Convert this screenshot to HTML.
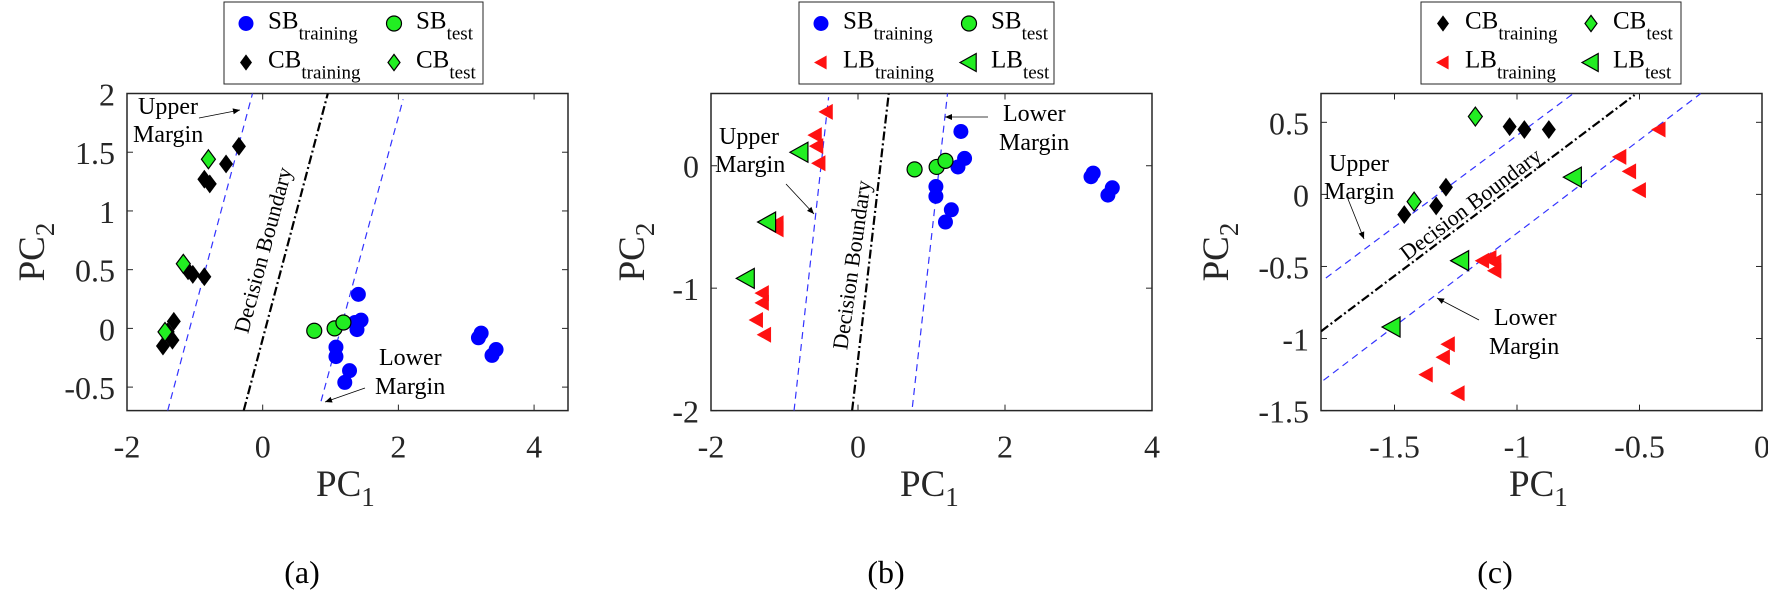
<!DOCTYPE html>
<html><head><meta charset="utf-8"><style>
html,body{margin:0;padding:0;background:#fff;}
svg{display:block;font-family:"Liberation Serif",serif;}
</style></head><body>
<svg id="fig" width="1768" height="606" viewBox="0 0 1768 606" xmlns="http://www.w3.org/2000/svg"></svg>
<script>
// ---------- data ----------
const sbTrainX=[1.41,1.45,1.39,1.36,1.08,1.08,1.28,1.21,3.22,3.18,3.44,3.38];
const sbTrainY=[0.29,0.07,-0.01,0.05,-0.16,-0.24,-0.36,-0.46,-0.04,-0.08,-0.18,-0.23];
const sbTestX=[0.76,1.06,1.19];
const sbTestY=[-0.02,0.0,0.05];
const cbTrainX=[-0.35,-0.54,-0.86,-0.78,-1.03,-0.86,-1.10,-1.31,-1.33,-1.47,-1.40];
const cbTrainY=[1.55,1.40,1.27,1.23,0.46,0.44,0.49,0.06,-0.10,-0.15,-0.03];
const cbTestX=[-0.80,-1.17,-1.44];
const cbTestY=[1.44,0.55,-0.03];
const lbTrainXb=[-0.43,-0.58,-0.56,-0.53,-1.10,-1.10,-1.30,-1.30,-1.38,-1.27];
const lbTrainYb=[0.44,0.25,0.16,0.02,-0.47,-0.52,-1.04,-1.12,-1.26,-1.38];
const lbTestXb=[-0.79,-1.23,-1.52];
const lbTestYb=[0.11,-0.46,-0.92];
const sbTrainXb=[1.40,1.45,1.36,1.06,1.06,1.27,1.19,3.20,3.17,3.46,3.40];
const sbTrainYb=[0.28,0.06,-0.01,-0.17,-0.25,-0.36,-0.46,-0.06,-0.09,-0.18,-0.24];
const sbTestXb=[0.77,1.07,1.19];
const sbTestYb=[-0.03,-0.01,0.04];
const cbTrainXc=[-1.46,-1.33,-1.29,-1.03,-0.97,-0.87];
const cbTrainYc=[-0.14,-0.08,0.05,0.47,0.45,0.45];
const cbTestXc=[-1.42,-1.17];
const cbTestYc=[-0.05,0.54];
const lbTrainXc=[-0.42,-0.58,-0.54,-0.50,-1.14,-1.11,-1.09,-1.09,-1.28,-1.30,-1.37,-1.24];
const lbTrainYc=[0.45,0.26,0.16,0.03,-0.46,-0.44,-0.47,-0.53,-1.04,-1.13,-1.25,-1.38];
const lbTestXc=[-0.77,-1.23,-1.51];
const lbTestYc=[0.12,-0.46,-0.92];
// lines: [x1,y1,x2,y2] in data units
const linesA={upper:[-1.40,-0.7,-0.15,2],boundary:[-0.28,-0.7,0.96,2],lower:[0.86,-0.62,2.07,1.95]};
const linesB={upper:[-0.87,-2,-0.40,0.56],boundary:[-0.08,-2,0.42,0.6],lower:[0.74,-1.97,1.22,0.6]};
const linesC={upper:[-1.78,-0.58,-0.77,0.70],boundary:[-1.8,-0.95,-0.52,0.69],lower:[-1.79,-1.29,-0.25,0.70]};
const ticksXA=[-2,0,2,4], ticksYA=[2,1.5,1,0.5,0,-0.5];
const tickLabXA=["-2","0","2","4"], tickLabYA=["2","1.5","1","0.5","0","-0.5"];
const ticksXB=[-2,0,2,4], ticksYB=[0,-1,-2];
const tickLabXB=["-2","0","2","4"], tickLabYB=["0","-1","-2"];
const ticksXC=[-1.5,-1,-0.5,0], ticksYC=[0.5,0,-0.5,-1,-1.5];
const tickLabXC=["-1.5","-1","-0.5","0"], tickLabYC=["0.5","0","-0.5","-1","-1.5"];

const NS="http://www.w3.org/2000/svg";
const svg=document.getElementById('fig');
function mk(tag,attrs,parent,txt){const e=document.createElementNS(NS,tag);for(const k in attrs)e.setAttribute(k,attrs[k]);if(txt!==undefined)e.textContent=txt;(parent||svg).appendChild(e);return e;}

function marker(g,type,cx,cy,s){
  let e;
  if(type==='sbTrain'){e=mk('circle',{cx:cx,cy:cy,r:7,fill:'#0000ff',stroke:'#0000ff','stroke-width':1},g);}
  else if(type==='sbTest'){e=mk('circle',{cx:cx,cy:cy,r:7.5,fill:'#22ee22',stroke:'#000','stroke-width':1.2},g);}
  else if(type==='cbTrain'){const w=s||7,h=(s||7)*1.35;e=mk('polygon',{points:`${cx},${cy-h} ${cx+w},${cy} ${cx},${cy+h} ${cx-w},${cy}`,fill:'#000'},g);}
  else if(type==='cbTest'){const w=s||7,h=(s||7)*1.35;e=mk('polygon',{points:`${cx},${cy-h} ${cx+w},${cy} ${cx},${cy+h} ${cx-w},${cy}`,fill:'#22ee22',stroke:'#000','stroke-width':1.2},g);}
  else if(type==='lbTrain'){const a=s||8;e=mk('polygon',{points:`${cx-a},${cy} ${cx+a*0.8},${cy-a} ${cx+a*0.8},${cy+a}`,fill:'#ff1111'},g);}
  else if(type==='lbTest'){const a=s||10;e=mk('polygon',{points:`${cx-a},${cy} ${cx+a*0.8},${cy-a} ${cx+a*0.8},${cy+a}`,fill:'#22ee22',stroke:'#000','stroke-width':1.2},g);}
  return e;
}

function panel(cfg){
  const g=mk('g',{});
  
  
  const L=cfg.box[0],T=cfg.box[1],R=cfg.box[2],B=cfg.box[3];
  const sx=v=>L+(v-cfg.xl[0])/(cfg.xl[1]-cfg.xl[0])*(R-L);
  const sy=v=>B-(v-cfg.yl[0])/(cfg.yl[1]-cfg.yl[0])*(B-T);
  const clipId='clip'+cfg.name;
  const cp=mk('clipPath',{id:clipId},g);mk('rect',{x:L,y:T,width:R-L,height:B-T},cp);
  // axes box
  const box=mk('rect',{x:L,y:T,width:R-L,height:B-T,fill:'none',stroke:'#262626','stroke-width':1.5},g);
  
  
  cfg.tx.forEach((v,i)=>{const x=sx(v);
    mk('line',{x1:x,y1:B,x2:x,y2:B-6,stroke:'#262626'},g);mk('line',{x1:x,y1:T,x2:x,y2:T+6,stroke:'#262626'},g);
    const t=mk('text',{x:x,y:B+47,'font-size':32,'text-anchor':'middle',fill:'#262626'},g,cfg.txl[i]);
    
    });
  cfg.ty.forEach((v,i)=>{const y=sy(v);
    mk('line',{x1:L,y1:y,x2:L+6,y2:y,stroke:'#262626'},g);mk('line',{x1:R,y1:y,x2:R-6,y2:y,stroke:'#262626'},g);
    const t=mk('text',{x:L-12,y:y+12,'font-size':32,'text-anchor':'end',fill:'#262626'},g,cfg.tyl[i]);
    
    });
  // lines
  const lg=mk('g',{'clip-path':`url(#${clipId})`},g);
  const ln=cfg.lines;
  [['upper',ln.upper],['lower',ln.lower]].forEach(([n,p])=>{
    const e=mk('line',{x1:sx(p[0]),y1:sy(p[1]),x2:sx(p[2]),y2:sy(p[3]),stroke:'#3333ff','stroke-width':1.2,'stroke-dasharray':'7,5'},lg);
    
    });
  const bd=mk('line',{x1:sx(ln.boundary[0]),y1:sy(ln.boundary[1]),x2:sx(ln.boundary[2]),y2:sy(ln.boundary[3]),stroke:'#000','stroke-width':2.2,'stroke-dasharray':'9,3,2,3'},lg);
  
  
  // points
  cfg.series.forEach(s=>{const sg=mk('g',{},lg);
    
    
    s.x.forEach((v,i)=>{const m=marker(sg,s.type,sx(v),sy(s.y[i]),s.size);
      
      });});
  // annotations
  cfg.ann.forEach(a=>{const t=mk('text',{x:a.x,y:a.y,'font-size':a.fs||24,fill:'#000',transform:a.rot?`rotate(${a.rot} ${a.x} ${a.y})`:'', 'text-anchor':a.anchor||'start'},g,a.t);
    
    });
  cfg.arrows.forEach(a=>{
    const e=mk('line',{x1:a[0],y1:a[1],x2:a[2],y2:a[3],stroke:'#000','stroke-width':0.8},g);
    
    
    const ang=Math.atan2(a[3]-a[1],a[2]-a[0]),l=7,w=3;
    const bx=a[2]-l*Math.cos(ang),by=a[3]-l*Math.sin(ang);
    mk('polygon',{points:`${a[2]},${a[3]} ${bx-w*Math.sin(ang)},${by+w*Math.cos(ang)} ${bx+w*Math.sin(ang)},${by-w*Math.cos(ang)}`,fill:'#000'},g);});
  // axis titles
  const px=mk('text',{x:cfg.pc1[0],y:cfg.pc1[1],'font-size':37,fill:'#262626'},g);
  
  
  mk('tspan',{},px,'PC');mk('tspan',{'font-size':27,dy:10},px,'1');
  const py=mk('text',{x:cfg.pc2[0],y:cfg.pc2[1],'font-size':37,fill:'#262626','text-anchor':'middle',transform:`rotate(-90 ${cfg.pc2[0]} ${cfg.pc2[1]})`},g);
  
  
  mk('tspan',{},py,'PC');mk('tspan',{'font-size':27,dy:10},py,'2');
  const pl=mk('text',{x:cfg.lab[0],y:583,'font-size':32,fill:'#000','text-anchor':'middle'},g,cfg.lab[1]);
  
  
  // legend
  const lgd=mk('g',{},g);
  
  
  const X0=cfg.leg[0],X1=cfg.leg[1];
  mk('rect',{x:X0,y:2,width:X1-X0,height:82,fill:'#fff',stroke:'#262626','stroke-width':1},lgd);
  cfg.legItems.forEach((it,i)=>{const col=i%2,row=Math.floor(i/2);
    const mx=X0+22+col*148,my=23.5+row*39;
    const e=mk('g',{},lgd);
    
    
    marker(e,it.type,mx,my,it.type.startsWith('cb')?6:(it.type==='lbTest'?9:7));
    const t=mk('text',{x:mx+22,y:my+5,'font-size':25,fill:'#000'},e);
    mk('tspan',{},t,it.a);mk('tspan',{'font-size':19,dy:11},t,it.b);});
}

panel({name:'panel-a',box:[127,93.5,568,410.6],xl:[-2,4.5],yl:[-0.7,2],tx:ticksXA,txl:tickLabXA,ty:ticksYA,tyl:tickLabYA,lines:linesA,
 series:[{name:'sb-training',type:'sbTrain',x:sbTrainX,y:sbTrainY},{name:'sb-test',type:'sbTest',x:sbTestX,y:sbTestY},
  {name:'cb-training',type:'cbTrain',x:cbTrainX,y:cbTrainY},{name:'cb-test',type:'cbTest',x:cbTestX,y:cbTestY,size:7}],
 ann:[{x:138,y:114,t:'Upper'},{x:133,y:142,t:'Margin'},{x:379,y:365,t:'Lower'},{x:375,y:394,t:'Margin'},{x:270,y:252,t:'Decision Boundary',rot:-75,fs:22,anchor:'middle'}],
 arrows:[[199,118,240,110],[365,388,325,402]],pc1:[316,496],pc2:[44,252],lab:[302,'(a)'],leg:[224,483],
 legItems:[{type:'sbTrain',a:'SB',b:'training'},{type:'sbTest',a:'SB',b:'test'},{type:'cbTrain',a:'CB',b:'training'},{type:'cbTest',a:'CB',b:'test'}]});

panel({name:'panel-b',box:[711,93.5,1152,410.6],xl:[-2,4],yl:[-2,0.59],tx:ticksXB,txl:tickLabXB,ty:ticksYB,tyl:tickLabYB,lines:linesB,
 series:[{name:'sb-training',type:'sbTrain',x:sbTrainXb,y:sbTrainYb},{name:'sb-test',type:'sbTest',x:sbTestXb,y:sbTestYb},
  {name:'lb-training',type:'lbTrain',x:lbTrainXb,y:lbTrainYb},{name:'lb-test',type:'lbTest',x:lbTestXb,y:lbTestYb}],
 ann:[{x:719,y:144,t:'Upper'},{x:715,y:172,t:'Margin'},{x:1003,y:121,t:'Lower'},{x:999,y:150,t:'Margin'},{x:859,y:266,t:'Decision Boundary',rot:-82,fs:22,anchor:'middle'}],
 arrows:[[786,184,814,214],[988,117,945,117]],pc1:[900,496],pc2:[644,252],lab:[886,'(b)'],leg:[799,1054],
 legItems:[{type:'sbTrain',a:'SB',b:'training'},{type:'sbTest',a:'SB',b:'test'},{type:'lbTrain',a:'LB',b:'training'},{type:'lbTest',a:'LB',b:'test'}]});

panel({name:'panel-c',box:[1321,93.5,1762,410.6],xl:[-1.8,0],yl:[-1.5,0.7],tx:ticksXC,txl:tickLabXC,ty:ticksYC,tyl:tickLabYC,lines:linesC,
 series:[{name:'cb-training',type:'cbTrain',x:cbTrainXc,y:cbTrainYc},{name:'cb-test',type:'cbTest',x:cbTestXc,y:cbTestYc,size:7},
  {name:'lb-training',type:'lbTrain',x:lbTrainXc,y:lbTrainYc},{name:'lb-test',type:'lbTest',x:lbTestXc,y:lbTestYc}],
 ann:[{x:1329,y:171,t:'Upper'},{x:1324,y:199,t:'Margin'},{x:1494,y:325,t:'Lower'},{x:1489,y:354,t:'Margin'},{x:1475,y:210,t:'Decision Boundary',rot:-37,fs:22,anchor:'middle'}],
 arrows:[[1348,199,1364,239],[1479,320,1437,298]],pc1:[1509,496],pc2:[1228,252],lab:[1495,'(c)'],leg:[1421,1681],
 legItems:[{type:'cbTrain',a:'CB',b:'training'},{type:'cbTest',a:'CB',b:'test'},{type:'lbTrain',a:'LB',b:'training'},{type:'lbTest',a:'LB',b:'test'}]});
</script>
</body></html>
